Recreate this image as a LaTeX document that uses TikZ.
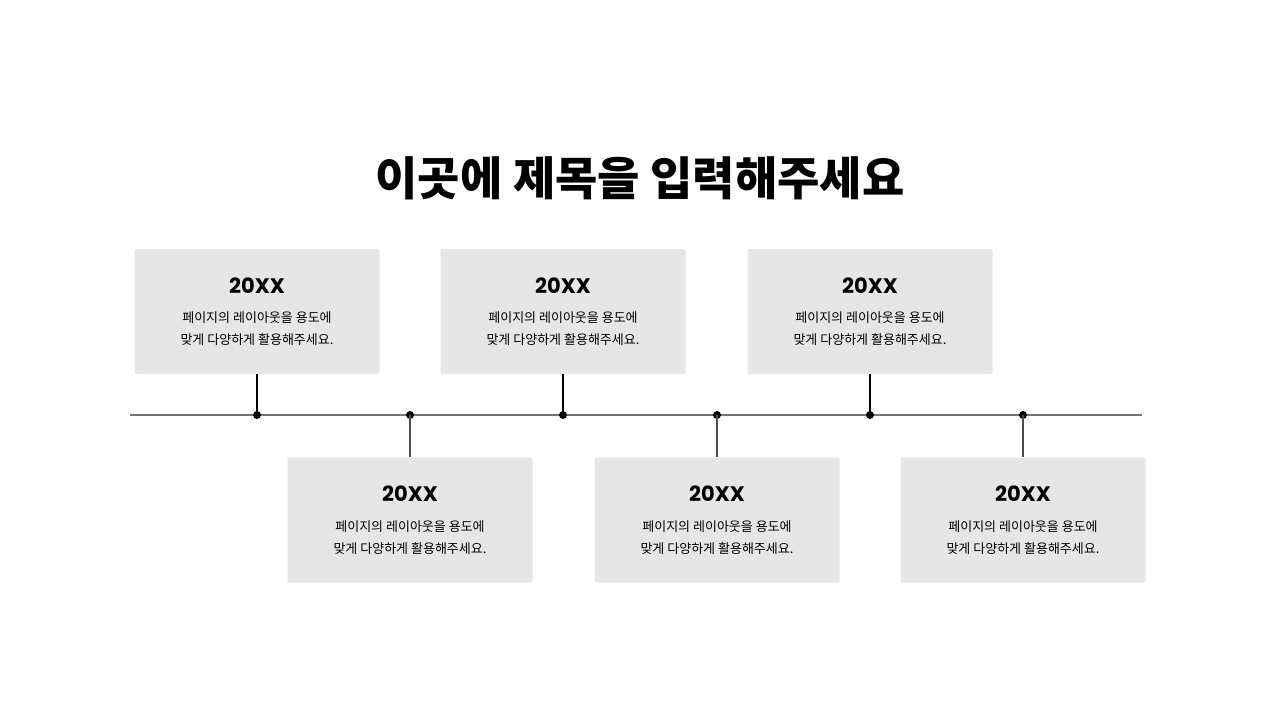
\documentclass[tikz,border=0pt]{standalone}
\usepackage{fontspec}
\newfontfamily\cjk{Noto Sans CJK KR}
\newfontfamily\yr{Poppins}
\definecolor{boxc}{HTML}{E6E6E6}
\begin{document}
\begin{tikzpicture}[x=1pt,y=-1pt,
  card/.style={fill=boxc,rounded corners=2pt,minimum width=245pt,minimum height=125pt,inner sep=0pt},
  yeart/.style={font=\yr\fontsize{21}{25}\selectfont\bfseries},
  bodyt/.style={font=\cjk\fontsize{13}{22}\selectfont,align=center},
  dot/.style={circle,fill=black,inner sep=0pt,minimum size=8pt}]
\useasboundingbox (0,0) rectangle (1280,720);
\node[font=\cjk\fontsize{46}{50}\selectfont\bfseries] (title) at (640,178) {이곳에 제목을 입력해주세요};
\coordinate (L) at (130,415); \coordinate (R) at (1142,415);
\draw[gray!90!black,line width=1.5pt] (L) -- (R);
\foreach \i/\x/\y/\ty in {1/257/311.5/top,2/410/520/bot,3/563/311.5/top,4/717/520/bot,5/870/311.5/top,6/1023/520/bot}{
  \node[card] (c\i) at (\x,\y) {};
  \node[yeart] (y\i) at (\x,\y-26) {20XX};
  \node[bodyt] (b\i) at (\x,\y+17.5) {페이지의 레이아웃을 용도에\\맞게 다양하게 활용해주세요.};
  \node[dot] (d\i) at (\x,415) {};
}
\foreach \i in {1,3,5}{\draw[line width=1.5pt] (c\i.south) -- (d\i.center);}
\foreach \i in {2,4,6}{\draw[line width=1.5pt,gray!60!black] (c\i.north) -- (d\i.center);}
\end{tikzpicture}
\end{document}
